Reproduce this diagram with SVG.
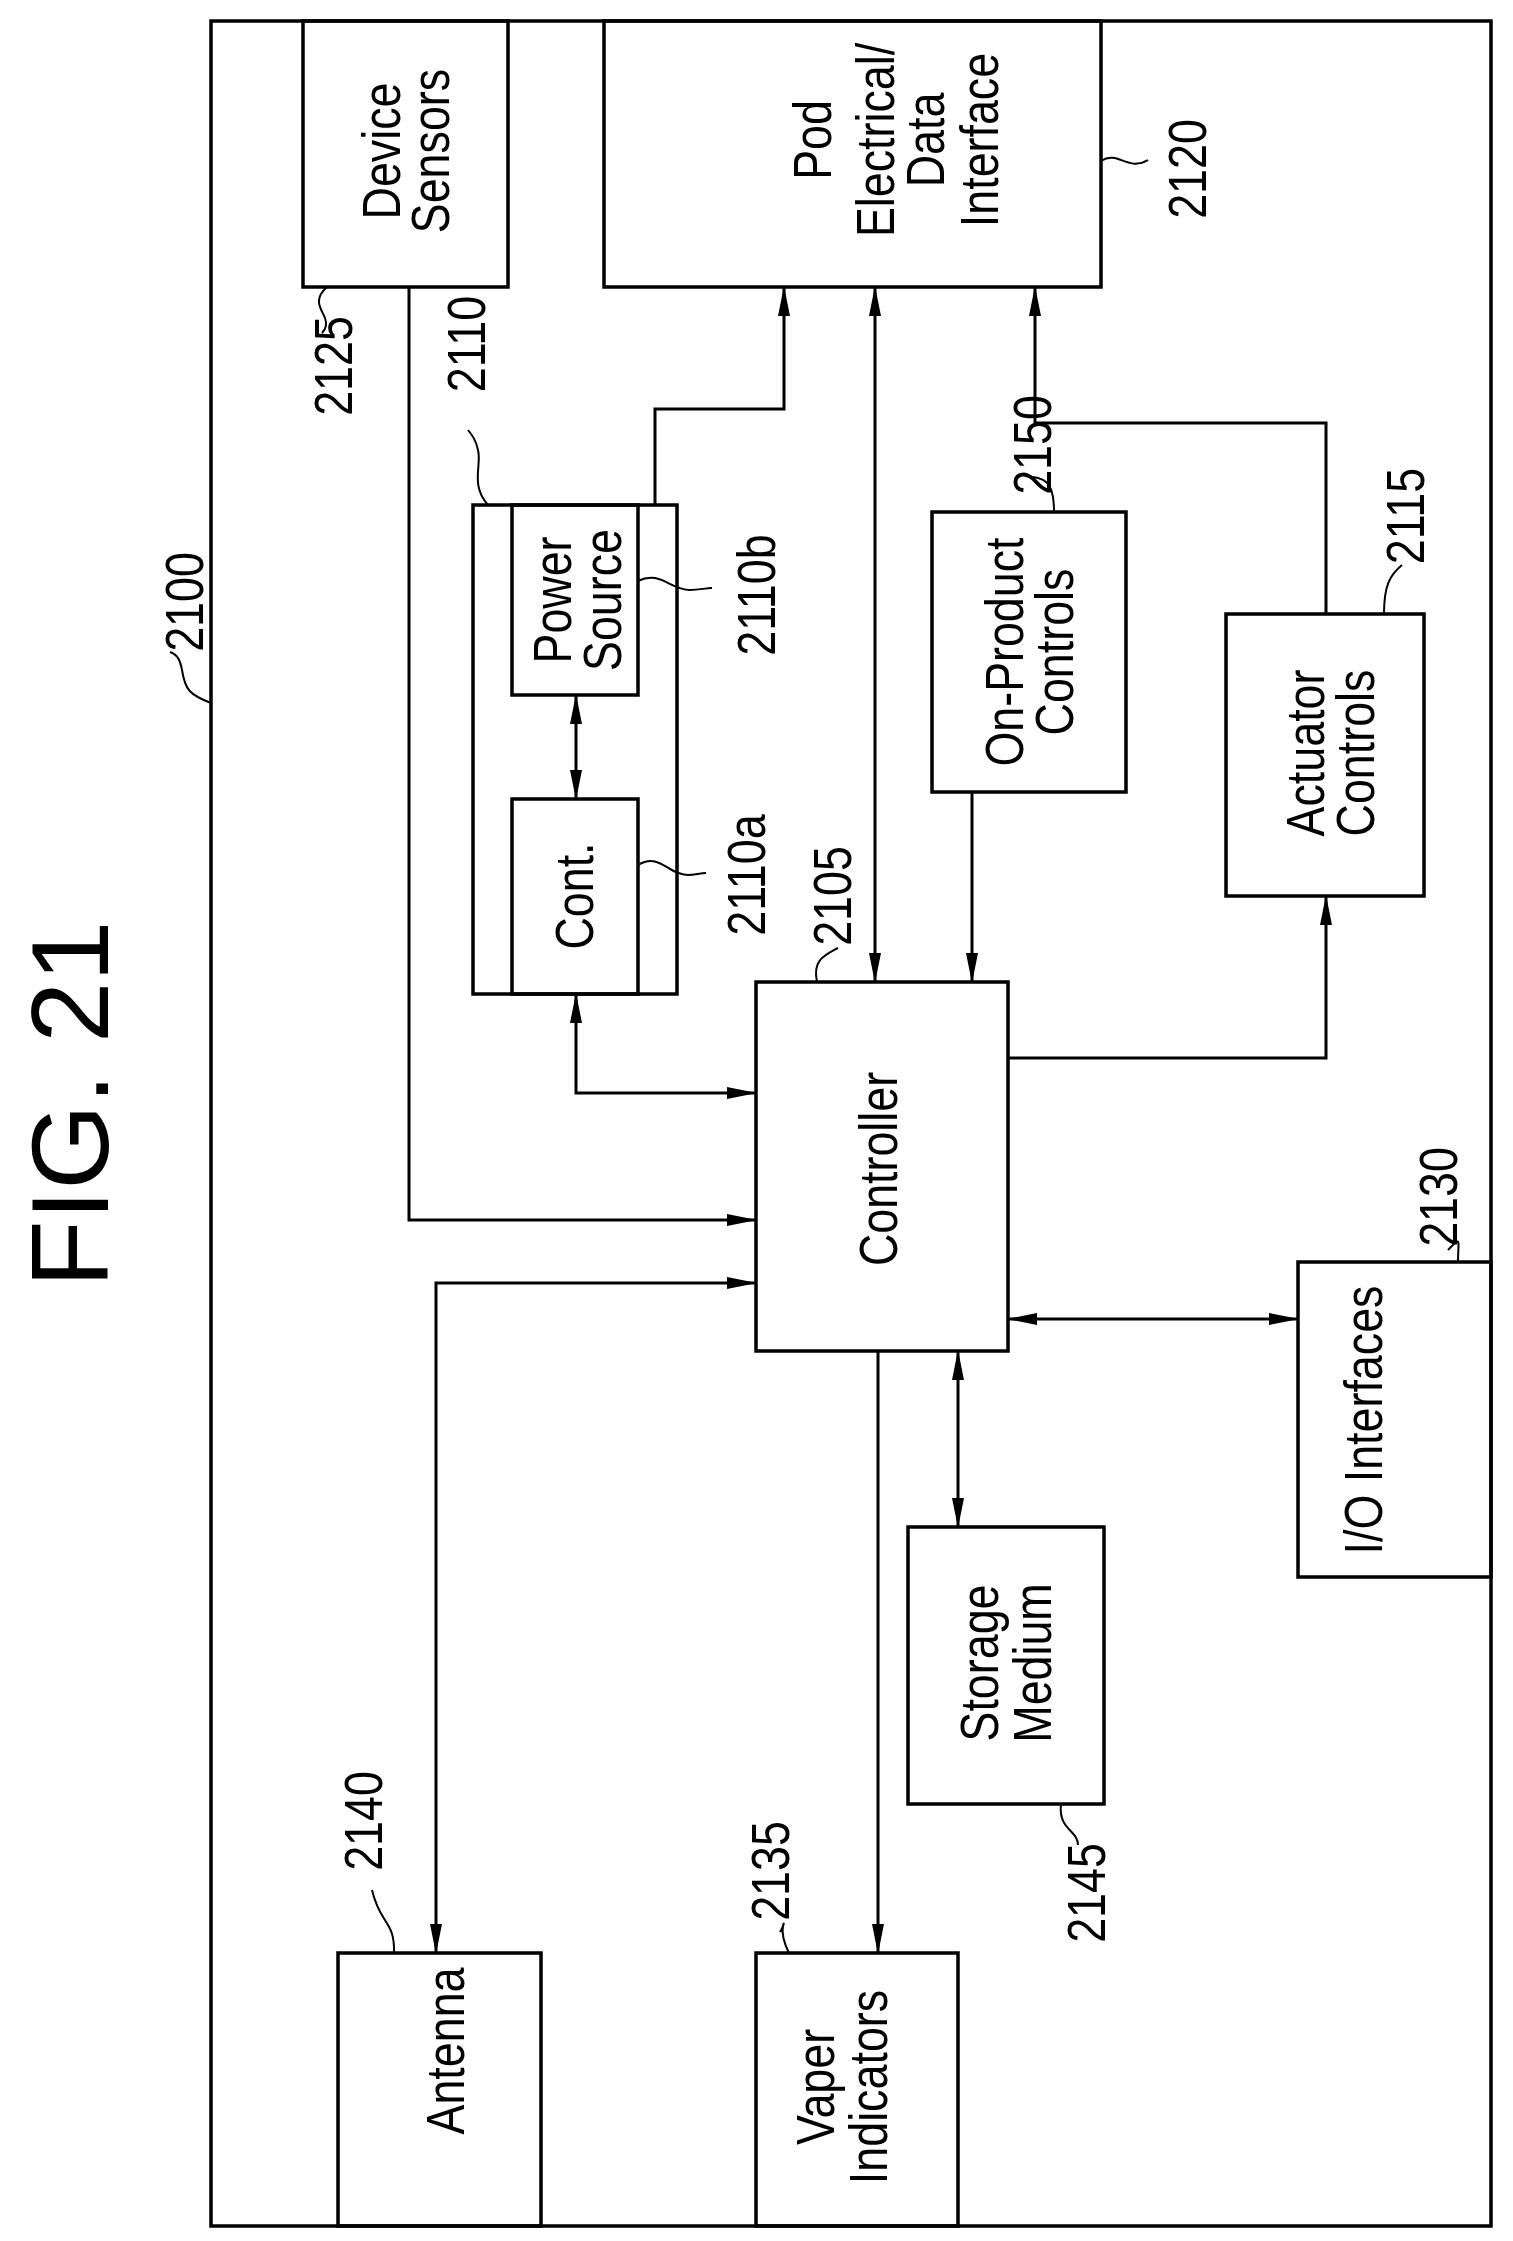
<svg xmlns="http://www.w3.org/2000/svg" width="1513" height="2241" viewBox="0 0 1513 2241">
<style>
.b{fill:none;stroke:#000;stroke-width:3.5}
.c{fill:none;stroke:#000;stroke-width:3}
.l{fill:none;stroke:#000;stroke-width:2}
text{font-family:"Liberation Sans",Arial,sans-serif;font-size:54px;text-anchor:middle;fill:#000}
</style>
<defs>
<marker id="a" markerWidth="30" markerHeight="14" refX="29" refY="7" orient="auto-start-reverse" markerUnits="userSpaceOnUse"><path d="M0,1 L30,7 L0,13 Z" fill="#000"/></marker>
</defs>
<rect width="1513" height="2241" fill="#fff"/>
<text transform="translate(108,1104) rotate(-90)" style="font-size:110px">FIG. 21</text>
<g id="n2100"><rect class="b" x="211" y="21" width="1280" height="2205"/><text transform="translate(203,602) rotate(-90) scale(0.83,1)">2100</text><path class="l" d="M211,703 C190,695 185,690 182,670 C180,660 178,655 170,652"/></g>
<g id="n2125"><rect class="b" x="303" y="21" width="205" height="266"/><text transform="translate(400,151) rotate(-90) scale(0.83,1)">Device</text><text transform="translate(449,151) rotate(-90) scale(0.83,1)">Sensors</text><text transform="translate(352,366) rotate(-90) scale(0.83,1)">2125</text><path class="l" d="M327,287 C312,300 322,310 325,318 C328,326 325,330 322,333"/></g>
<g id="n2120"><rect class="b" x="604" y="21" width="497" height="266"/><text transform="translate(831,140) rotate(-90) scale(0.83,1)">Pod</text><text transform="translate(894,140) rotate(-90) scale(0.83,1)">Electrical/</text><text transform="translate(944,140) rotate(-90) scale(0.83,1)">Data</text><text transform="translate(998,140) rotate(-90) scale(0.83,1)">Interface</text><text transform="translate(1206,169) rotate(-90) scale(0.83,1)">2120</text><path class="l" d="M1101,161 C1118,150 1128,172 1148,160"/></g>
<g id="n2110"><rect class="b" x="473" y="505" width="204" height="489"/><text transform="translate(485,344) rotate(-90) scale(0.83,1)">2110</text><path class="l" d="M488,505 C470,485 482,465 478,450 C476,440 472,435 468,430"/></g>
<g id="n2110b"><rect class="b" x="512" y="505" width="126" height="190"/><text transform="translate(571,600) rotate(-90) scale(0.83,1)">Power</text><text transform="translate(621,600) rotate(-90) scale(0.83,1)">Source</text><text transform="translate(775,595) rotate(-90) scale(0.83,1)">2110b</text><path class="l" d="M638,581 C660,570 670,590 690,590 C700,590 705,588 712,588"/></g>
<g id="n2110a"><rect class="b" x="512" y="799" width="126" height="195"/><text transform="translate(593,896) rotate(-90) scale(0.83,1)">Cont.</text><text transform="translate(765,875) rotate(-90) scale(0.83,1)">2110a</text><path class="l" d="M638,865 C660,852 668,875 688,875 C695,875 700,873 706,873"/></g>
<g id="n2105"><rect class="b" x="756" y="982" width="252" height="369"/><text transform="translate(897,1169) rotate(-90) scale(0.83,1)">Controller</text><text transform="translate(851,896) rotate(-90) scale(0.83,1)">2105</text><path class="l" d="M817,982 C812,960 825,955 838,948"/></g>
<g id="n2150"><rect class="b" x="932" y="512" width="194" height="280"/><text transform="translate(1023,652) rotate(-90) scale(0.83,1)">On-Product</text><text transform="translate(1073,652) rotate(-90) scale(0.83,1)">Controls</text><text transform="translate(1051,445) rotate(-90) scale(0.83,1)">2150</text><path class="l" d="M1054,512 C1054,480 1045,478 1025,476"/></g>
<g id="n2115"><rect class="b" x="1226" y="614" width="198" height="282"/><text transform="translate(1324,753) rotate(-90) scale(0.83,1)">Actuator</text><text transform="translate(1374,753) rotate(-90) scale(0.83,1)">Controls</text><text transform="translate(1424,516) rotate(-90) scale(0.83,1)">2115</text><path class="l" d="M1384,614 C1384,585 1390,575 1402,565"/></g>
<g id="n2130"><rect class="b" x="1298" y="1262" width="193" height="315"/><text transform="translate(1382,1420) rotate(-90) scale(0.83,1)">I/O Interfaces</text><text transform="translate(1457,1197) rotate(-90) scale(0.83,1)">2130</text><path class="l" d="M1458,1262 C1458,1240 1462,1235 1448,1250"/></g>
<g id="n2145"><rect class="b" x="908" y="1527" width="196" height="277"/><text transform="translate(998,1663) rotate(-90) scale(0.83,1)">Storage</text><text transform="translate(1051,1663) rotate(-90) scale(0.83,1)">Medium</text><text transform="translate(1105,1893) rotate(-90) scale(0.83,1)">2145</text><path class="l" d="M1061,1804 C1058,1830 1078,1830 1078,1845"/></g>
<g id="n2140"><rect class="b" x="338" y="1953" width="203" height="273"/><text transform="translate(464,2051) rotate(-90) scale(0.83,1)">Antenna</text><text transform="translate(382,1821) rotate(-90) scale(0.83,1)">2140</text><path class="l" d="M394,1953 C395,1920 380,1925 372,1890"/></g>
<g id="n2135"><rect class="b" x="756" y="1953" width="202" height="273"/><text transform="translate(834,2087) rotate(-90) scale(0.83,1)">Vaper</text><text transform="translate(887,2087) rotate(-90) scale(0.83,1)">Indicators</text><text transform="translate(789,1871) rotate(-90) scale(0.83,1)">2135</text><path class="l" d="M789,1953 C775,1925 790,1915 780,1932"/></g>
<g id="connectors">
<path class="c" d="M409,287 V1220 H756" marker-end="url(#a)"/>
<path class="c" d="M756,1283 H436 V1953" marker-start="url(#a)" marker-end="url(#a)"/>
<path class="c" d="M576,994 V1093 H756" marker-start="url(#a)" marker-end="url(#a)"/>
<path class="c" d="M576,695 V799" marker-start="url(#a)" marker-end="url(#a)"/>
<path class="c" d="M655,505 V409 H784 V287" marker-end="url(#a)"/>
<path class="c" d="M875,287 V982" marker-start="url(#a)" marker-end="url(#a)"/>
<path class="c" d="M972,792 V982" marker-end="url(#a)"/>
<path class="c" d="M1008,1058 H1326 V896" marker-end="url(#a)"/>
<path class="c" d="M1326,614 V423 H1035 V287" marker-end="url(#a)"/>
<path class="c" d="M1008,1319 H1298" marker-start="url(#a)" marker-end="url(#a)"/>
<path class="c" d="M958,1351 V1527" marker-start="url(#a)" marker-end="url(#a)"/>
<path class="c" d="M878,1351 V1953" marker-end="url(#a)"/>
</g>
</svg>
